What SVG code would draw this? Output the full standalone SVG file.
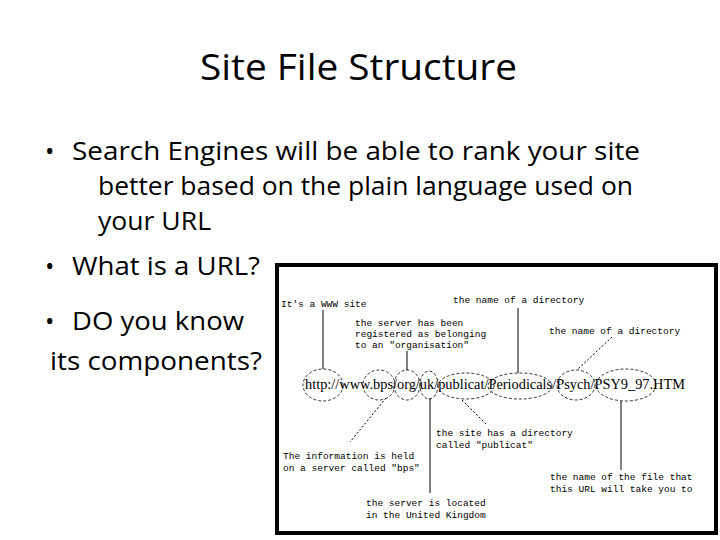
<svg xmlns="http://www.w3.org/2000/svg" width="720" height="540" viewBox="0 0 720 540">
<style>
.t{font-family:"Open Sans","Liberation Sans",Arial,sans-serif;fill:#000}
.b{font-size:25px}
.m{font-family:"Liberation Mono","DejaVu Sans Mono",monospace;font-size:9.5px;fill:#000}
.u{font-family:"Liberation Serif","Times New Roman",serif;font-size:15px;fill:#000}
.l{stroke:#000;stroke-width:1;fill:none}
.d{stroke:#000;stroke-width:1;fill:none;stroke-dasharray:2,2}
.e{stroke:#000;stroke-width:0.8;fill:none;stroke-dasharray:3,2}
</style>
<rect width="720" height="540" fill="#fff"/>
<text class="t" x="200" y="80" font-size="36" textLength="317" lengthAdjust="spacingAndGlyphs">Site File Structure</text>
<g id="bullets">
<text class="t b" x="45" y="160">•</text><text class="t b" x="72" y="160" textLength="568" lengthAdjust="spacingAndGlyphs">Search Engines will be able to rank your site</text>
<text class="t b" x="98" y="195" textLength="535" lengthAdjust="spacingAndGlyphs">better based on the plain language used on</text>
<text class="t b" x="98" y="230" textLength="113" lengthAdjust="spacingAndGlyphs">your URL</text>
<text class="t b" x="45" y="275">•</text><text class="t b" x="72" y="275" textLength="188" lengthAdjust="spacingAndGlyphs">What is a URL?</text>
<text class="t b" x="45" y="330">•</text><text class="t b" x="72" y="330" textLength="172" lengthAdjust="spacingAndGlyphs">DO you know</text>
<text class="t b" x="50" y="370" textLength="212" lengthAdjust="spacingAndGlyphs">its components?</text>
</g>
<g id="figure">
<rect x="277" y="265" width="439" height="268" fill="#fff" stroke="#000" stroke-width="4"/>
<text class="u" x="305" y="389" textLength="380" lengthAdjust="spacingAndGlyphs">http://www.bps/org/uk/publicat/Periodicals/Psych/PSY9_97.HTM</text>
<g id="ellipses">
<ellipse class="e" cx="323" cy="385" rx="20" ry="16"/>
<ellipse class="e" cx="379" cy="385" rx="16" ry="15"/>
<ellipse class="e" cx="407" cy="385" rx="13" ry="15"/>
<ellipse class="e" cx="429" cy="385" rx="9" ry="14"/>
<ellipse class="e" cx="466" cy="386" rx="28" ry="13"/>
<ellipse class="e" cx="520" cy="386" rx="32" ry="13"/>
<ellipse class="e" cx="576" cy="385" rx="19" ry="15"/>
<ellipse class="e" cx="626" cy="385" rx="30" ry="16"/>
</g>
<g id="connectors">
<line class="l" x1="323" y1="310" x2="323" y2="369"/>
<line class="l" x1="518" y1="308" x2="518" y2="373"/>
<line class="l" x1="407" y1="351" x2="407" y2="370"/>
<line class="d" x1="612" y1="337" x2="577" y2="370"/>
<line class="d" x1="386" y1="398" x2="350" y2="442"/>
<line class="l" x1="430" y1="398" x2="430" y2="493"/>
<line class="d" x1="462" y1="400" x2="487" y2="425"/>
<line class="l" x1="621" y1="401" x2="621" y2="470"/>
</g>
<g id="labels">
<text class="m" x="281" y="307">It's a WWW site</text>
<text class="m" x="453" y="303">the name of a directory</text>
<text class="m" x="355" y="326">the server has been</text>
<text class="m" x="355" y="337">registered as belonging</text>
<text class="m" x="355" y="348">to an "organisation"</text>
<text class="m" x="549" y="334">the name of a directory</text>
<text class="m" x="436" y="436">the site has a directory</text>
<text class="m" x="436" y="448">called "publicat"</text>
<text class="m" x="283" y="459">The information is held</text>
<text class="m" x="283" y="471">on a server called "bps"</text>
<text class="m" x="550" y="480">the name of the file that</text>
<text class="m" x="550" y="492">this URL will take you to</text>
<text class="m" x="366" y="506">the server is located</text>
<text class="m" x="366" y="518">in the United Kingdom</text>
</g>
</g>
</svg>
